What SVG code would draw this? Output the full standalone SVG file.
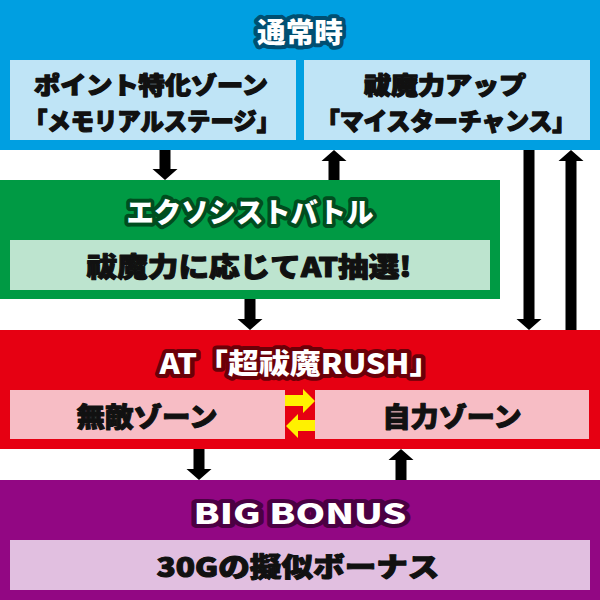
<svg xmlns="http://www.w3.org/2000/svg" width="600" height="600" viewBox="0 0 600 600">
<style>
text{font-family:"Noto Sans CJK JP","Noto Sans",sans-serif;font-weight:900;text-anchor:middle;dominant-baseline:central}
.title{fill:#fff;stroke-width:8;stroke-linejoin:round;paint-order:stroke;font-size:28px}
.body{fill:#111;stroke:#111;stroke-width:1.1;stroke-linejoin:round;font-size:27px}
.two{font-size:24px;stroke-width:1.3}
.arr{fill:#000}
.yarr{fill:#fff100}
</style>
<g id="normal">
<rect x="0" y="0" width="600" height="150" fill="#009fe1"/>
<text class="title" x="300" y="31" stroke="#004f72" textLength="86" lengthAdjust="spacingAndGlyphs">通常時</text>
</g>
<g id="point-zone">
<rect x="10" y="60" width="286" height="80" fill="#bfe4f6"/>
<text class="body two" x="151" y="83" textLength="234" lengthAdjust="spacingAndGlyphs">ポイント特化ゾーン</text>
<text class="body two" x="152" y="119" textLength="256" lengthAdjust="spacingAndGlyphs">「メモリアルステージ」</text>
</g>
<g id="fuma-up">
<rect x="304" y="60" width="286" height="80" fill="#bfe4f6"/>
<text class="body two" x="445" y="83" textLength="162" lengthAdjust="spacingAndGlyphs">祓魔力アップ</text>
<text class="body two" x="446" y="119" textLength="260" lengthAdjust="spacingAndGlyphs">「マイスターチャンス」</text>
</g>
<g id="exorcist-battle">
<rect x="0" y="180" width="500" height="119" fill="#009a44"/>
<text class="title" x="250" y="211" stroke="#004d1f" textLength="247" lengthAdjust="spacingAndGlyphs">エクソシストバトル</text>
<rect x="10" y="240" width="480" height="50" fill="#bde4cf"/>
<text class="body" x="249" y="265" textLength="325" lengthAdjust="spacingAndGlyphs">祓魔力に応じてAT抽選!</text>
</g>
<g id="at-rush">
<rect x="0" y="330" width="600" height="119" fill="#e60012"/>
<text class="title" x="300" y="362" stroke="#6b0008" textLength="281" lengthAdjust="spacingAndGlyphs">AT「超祓魔RUSH」</text>
</g>
<g id="muteki-zone">
<rect x="10" y="390" width="275" height="49" fill="#f7bdc5"/>
<text class="body" x="147" y="415" textLength="141" lengthAdjust="spacingAndGlyphs">無敵ゾーン</text>
</g>
<g id="jiriki-zone">
<rect x="315" y="390" width="274" height="49" fill="#f7bdc5"/>
<text class="body" x="452" y="415" textLength="139" lengthAdjust="spacingAndGlyphs">自力ゾーン</text>
</g>
<g id="big-bonus">
<rect x="0" y="480" width="600" height="120" fill="#920783"/>
<text class="title" x="300" y="512" stroke="#4b0043" textLength="213" lengthAdjust="spacingAndGlyphs">BIG BONUS</text>
<rect x="10" y="540" width="580" height="50" fill="#e1bfe0"/>
<text class="body" x="298" y="565" textLength="283" lengthAdjust="spacingAndGlyphs">30Gの擬似ボーナス</text>
</g>
<g id="connectors">
<polygon class="arr" points="159.5,150 170.5,150 170.5,169 177.5,169 165,180 152.5,169 159.5,169"/>
<polygon class="arr" points="328.5,180 339.5,180 339.5,161 346.5,161 334,150 321.5,161 328.5,161"/>
<polygon class="arr" points="523.5,150 534.5,150 534.5,319 541.5,319 529,330 516.5,319 523.5,319"/>
<polygon class="arr" points="565.5,330 576.5,330 576.5,161 583.5,161 571,150 558.5,161 565.5,161"/>
<polygon class="arr" points="244.5,299 255.5,299 255.5,319 262.5,319 250,330 237.5,319 244.5,319"/>
<polygon class="arr" points="193.5,449 204.5,449 204.5,469 211.5,469 199,480 186.5,469 193.5,469"/>
<polygon class="arr" points="395.5,480 406.5,480 406.5,460 413.5,460 401,449 388.5,460 395.5,460"/>
<polygon class="yarr" points="285,395 303,395 303,389 315,401 303,413 303,406 285,406"/>
<polygon class="yarr" points="315,420 298,420 298,414 286,426 298,438 298,431 315,431"/>
</g>
</svg>
